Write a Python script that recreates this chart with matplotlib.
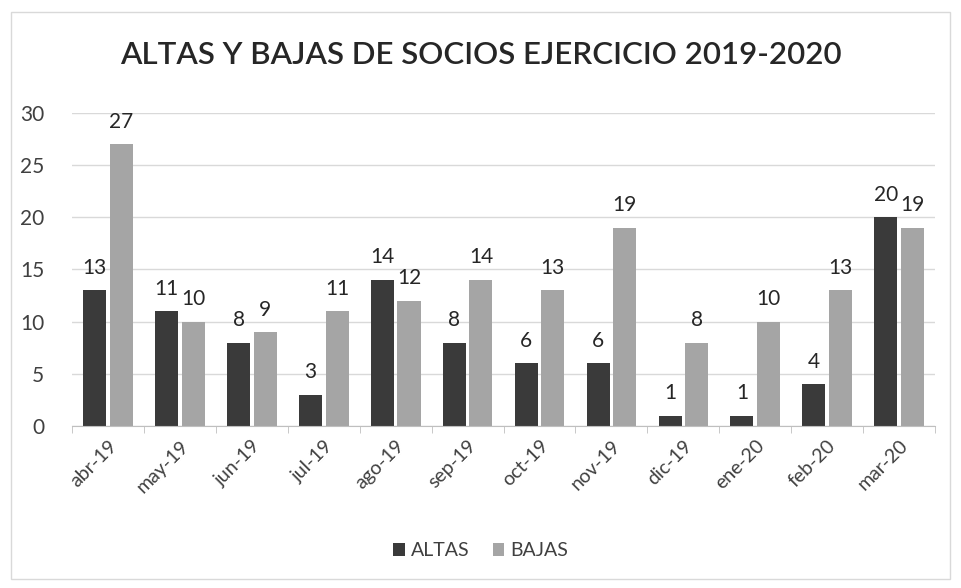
import matplotlib
matplotlib.use("Agg")
import matplotlib.pyplot as plt
import numpy as np
from matplotlib.patches import Rectangle

categories = ["abr-19", "may-19", "jun-19", "jul-19", "ago-19", "sep-19",
              "oct-19", "nov-19", "dic-19", "ene-20", "feb-20", "mar-20"]
altas = [13, 11, 8, 3, 14, 8, 6, 6, 1, 1, 4, 20]
bajas = [27, 10, 9, 11, 12, 14, 13, 19, 8, 10, 13, 19]
yticks = [0, 5, 10, 15, 20, 25, 30]

plt.rcParams['font.family'] = ['Lato', 'DejaVu Sans']

fig = plt.figure(figsize=(9.61, 5.88), dpi=100)
fig.patches.append(Rectangle((0.011, 0.015), 0.978, 0.965, transform=fig.transFigure,
                             fill=False, edgecolor="#d9d9d9", linewidth=1.0))
ax = fig.add_axes([0.075, 0.2755, 0.898, 0.5325])

x = np.arange(len(categories))
w = 0.32
dark = "#3a3a3a"
light = "#a5a5a5"
b1 = ax.bar(x - 0.185, altas, width=w, color=dark, label="ALTAS")
b2 = ax.bar(x + 0.185, bajas, width=w, color=light, label="BAJAS")
ax.bar_label(b1, padding=9, fontsize=15, color="#262626")
ax.bar_label(b2, padding=9, fontsize=15, color="#262626")

ax.set_ylim(0, 30)
ax.set_xlim(-0.5, len(categories) - 0.5)
ax.set_yticks(yticks)
ax.yaxis.grid(True, color="#d9d9d9", linewidth=1)
ax.set_axisbelow(True)
ax.tick_params(axis="y", length=0, pad=20, labelsize=15, labelcolor="#404040")
ax.set_xticks(x)
ax.set_xticklabels(categories, rotation=45, ha="right", rotation_mode="anchor",
                   fontsize=14, color="#404040")
ax.tick_params(axis="x", which="major", length=0, pad=8)
ax.set_xticks(np.arange(-0.5, len(categories)), minor=True)
ax.tick_params(axis="x", which="minor", length=5, color="#bfbfbf")
for s in ["top", "right", "left"]:
    ax.spines[s].set_visible(False)
ax.spines["bottom"].set_color("#bfbfbf")

fig.text(0.5, 0.906, "ALTAS Y BAJAS DE SOCIOS EJERCICIO 2019-2020",
         ha="center", va="center", fontsize=22.5, fontweight="semibold", color="#262626")
fig.legend(handles=[b1, b2], labels=["ALTAS", "BAJAS"], loc="center",
           bbox_to_anchor=(0.5, 0.063), ncol=2, frameon=False, fontsize=14,
           handlelength=0.6, handleheight=0.6, handletextpad=0.3, columnspacing=1.2,
           labelcolor="#404040")

fig.savefig("out.png", dpi=100)
